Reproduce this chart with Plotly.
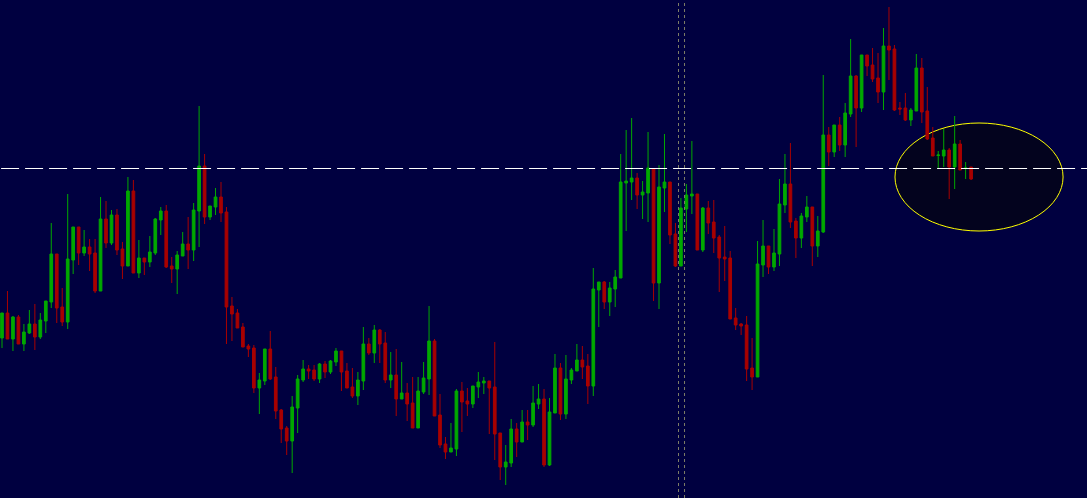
import plotly.graph_objects as go

# Candle data (price units); index = bar number
opens = [162,187,161,183,156,167,176,163,179,198,246,193,178,240,273,247,253,247,209,281,
         257,285,251,234,309,227,242,238,247,280,289,234,231,244,256,250,289,334,283,293,
         303,288,194,187,173,154,152,112,119,151,123,90,72,59,92,120,131,130,121,136,
         128,138,149,129,113,104,119,156,147,170,157,120,125,101,107,97,72,108,121,159,
         85,56,48,51,109,99,96,113,117,119,113,67,33,37,71,58,78,75,96,101,
         35,87,132,86,120,129,140,134,114,210,218,198,211,222,317,318,322,305,307,331,
         217,312,318,266,234,291,304,306,250,292,278,263,243,242,182,176,175,132,123,235,
         254,233,246,295,316,279,262,283,293,254,268,365,348,375,355,386,424,392,445,435,
         422,408,454,451,392,392,380,389,432,389,362,344.5,344,350,333,356,331.5,333]
highs = [187,209,184,185,176,190,196,187,199,277,246,212,306,273,273,270,261,261,303,299,
         290,291,258,323,320,260,242,264,282,293,295,243,249,268,283,297,394,346,294,312,
         318,293,203,191,177,156,155,127,151,169,133,91,74,104,125,140,135,135,137,139,
         140,152,149,137,132,128,173,162,175,171,168,148,151,138,117,123,123,138,194,161,
         106,63,77,111,118,112,114,128,123,119,158,67,55,81,77,90,90,114,116,111,
         102,146,137,145,132,156,154,146,232,218,219,218,230,346,370,382,327,319,368,331,
         335,366,318,277,302,316,359,306,293,299,300,265,274,249,192,177,184,162,259,280,
         254,271,321,346,357,282,287,304,293,284,425,373,375,383,397,461,425,445,445,452,
         447,472,493,455,398,407,392,446,442,413,373,349,371,352,384,360,338,333]
lows = [152,161,149,156,149,166,150,161,167,192,177,174,171,226,235,244,229,207,209,252,
        255,245,221,234,227,222,225,233,245,265,232,217,206,244,231,239,253,276,280,285,
        278,156,159,172,153,143,107,86,115,120,81,57,45,27,67,118,121,119,117,122,
        126,134,109,112,102,95,110,145,137,137,117,112,84,101,79,72,72,106,105,84,
        52,41,48,44,68,84,92,102,106,66,40,20,15,33,43,58,60,73,91,33,
        34,87,80,81,116,129,121,96,104,173,191,184,193,222,269,300,291,281,278,199,
        191,288,256,233,234,268,286,250,248,266,247,208,219,181,170,165,119,110,123,223,
        226,229,234,287,272,242,252,278,234,243,267,334,343,349,343,383,353,388,424,418,
        397,390,420,389,385,379,374,389,377,360,344,332,333,301,311,330,321,320]
closes = [187,161,183,156,168,176,163,180,199,246,192,178,241,273,247,253,246,209,281,257,
          285,250,234,309,227,242,238,248,281,289,233,231,245,256,250,290,334,283,294,303,
          287,193,186,172,153,151,112,120,151,121,89,71,59,93,121,131,129,121,136,128,
          139,149,128,112,104,120,156,147,170,156,120,125,101,107,96,72,109,122,159,84,
          55,48,52,109,98,96,114,118,119,112,66,33,38,71,58,78,75,97,101,35,
          88,132,86,121,130,140,133,114,211,218,198,212,223,318,319,322,305,308,332,217,
          313,318,265,234,292,305,306,250,292,277,262,242,241,181,175,174,131,123,236,254,
          233,247,296,316,278,262,284,293,254,269,365,348,375,355,387,424,392,445,434,421,
          408,454,450,390,391,380,390,432,388,361,344,345,350,333,356,330,332,321]

bars = list(range(len(opens)))

# Reference levels / markers
level_price = 331.5          # dashed horizontal level
marker_bar = 124             # bar framed by the dotted vertical pair
zone_bars = (163.1, 193.8)   # ellipse extent (bars)
zone_prices = (269, 377)     # ellipse extent (price)

BG = "#000040"
UP = "#00a800"
DOWN = "#a80000"

fig = go.Figure(go.Candlestick(
    x=bars, open=opens, high=highs, low=lows, close=closes,
    increasing=dict(line=dict(color=UP, width=1), fillcolor=UP),
    decreasing=dict(line=dict(color=DOWN, width=1), fillcolor=DOWN),
    whiskerwidth=0, hoverinfo="skip",
))

fig.add_shape(type="circle", xref="x", yref="y",
              x0=zone_bars[0], x1=zone_bars[1], y0=zone_prices[0], y1=zone_prices[1],
              line=dict(color="#ffff00", width=1), fillcolor="#03031e", layer="below")
for dx in (-0.44, 0.66):
    fig.add_shape(type="line", xref="x", yref="paper",
                  x0=marker_bar + dx, x1=marker_bar + dx, y0=0, y1=1,
                  line=dict(color="#7d7d66", width=1, dash="3px,3px"), layer="above")
fig.add_shape(type="line", xref="paper", yref="y", x0=0.001, x1=1,
              y0=level_price, y1=level_price,
              line=dict(color="#ffffff", width=1, dash="18px,6px"), layer="above")

fig.update_layout(
    width=1087, height=498,
    margin=dict(l=0, r=0, t=0, b=0),
    paper_bgcolor=BG, plot_bgcolor=BG,
    showlegend=False,
    xaxis=dict(range=[-0.365, 198.17], visible=False, rangeslider=dict(visible=False),
               showgrid=False, zeroline=False),
    yaxis=dict(range=[2, 500], visible=False, showgrid=False, zeroline=False),
)

fig.write_html(
    "out.html",
    config={"displayModeBar": False, "staticPlot": True},
    post_script="document.body.style.margin='0';document.body.style.overflow='hidden';"
                "document.body.style.background='" + BG + "';",
)
